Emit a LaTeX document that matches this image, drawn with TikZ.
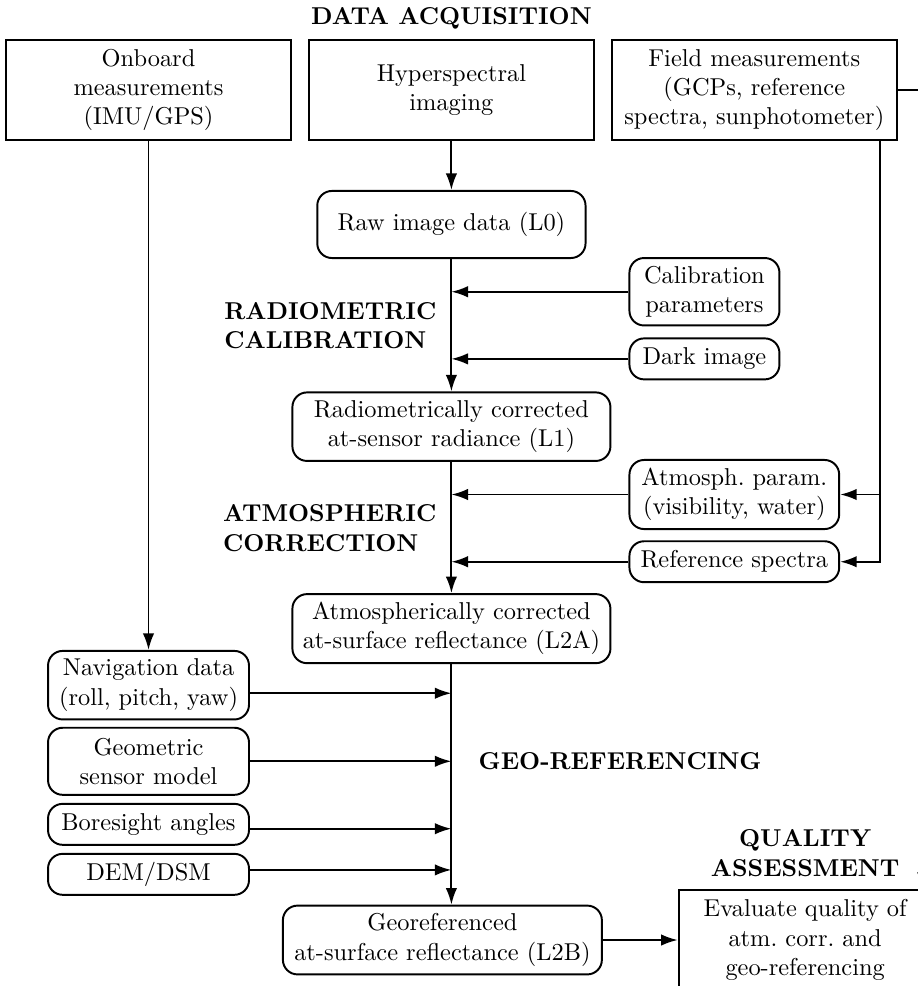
\documentclass[tikz,border=0pt]{standalone}
\usetikzlibrary{arrows.meta, positioning, calc}

\begin{document}
\begin{tikzpicture}[
    node distance=20pt and 6.4pt,
    io/.style={rectangle, draw, thick, minimum width=117pt, minimum height=41pt, align=center},
    proc/.style={rectangle, draw, thick, rounded corners=6pt, minimum height=16.8pt, align=center},
    arr/.style={thick, -{Latex[length=6.8pt, width=4.7pt]}},
    stage/.style={font=\bfseries, align=left, inner sep=0pt}
]

% Page frame (the picture is cut at the right and bottom)
\useasboundingbox (-185.1pt,36.9pt) rectangle (191.3pt,-367.4pt);
\clip (-185.1pt,36.9pt) rectangle (191.3pt,-367.4pt);

% Nodes
\node[io] (hyper) at (0,0) {Hyperspectral\\imaging};
\node[io, left=of hyper] (onboard) {Onboard\\measurements\\(IMU/GPS)};
\node[io, right=of hyper] (field) {Field measurements\\(GCPs, reference\\spectra, sunphotometer)};
\node[stage, above=4pt of hyper] (acq) {DATA ACQUISITION};

\node[proc, minimum width=110pt, minimum height=27.5pt, below=20.1pt of hyper] (raw) {Raw image data (L0)};
\node[proc, minimum width=61.5pt, below right=-0.8pt and 17.2pt of raw] (calib) {Calibration\\parameters};
\node[proc, minimum width=61.5pt, below=4.5pt of calib] (dark) {Dark image};

\node[proc, minimum width=130.4pt, below=54.3pt of raw] (radio) {Radiometrically corrected\\at-sensor radiance (L1)};
\node[proc, minimum width=86pt, below right=-1.2pt and 7pt of radio] (atmpar) {Atmosph.\ param.\\(visibility, water)};
\node[proc, minimum width=86pt, below=4.2pt of atmpar] (refspec) {Reference spectra};

\node[proc, minimum width=130.4pt, below=53.8pt of radio] (atm) {Atmospherically corrected\\at-surface reflectance (L2A)};

\node[proc, minimum width=82.4pt, below=208.7pt of onboard] (nav) {Navigation data\\(roll, pitch, yaw)};
\node[proc, minimum width=82.4pt, minimum height=27.5pt, below=2.6pt of nav] (geom) {Geometric\\sensor model};
\node[proc, minimum width=82.4pt, below=2.9pt of geom] (bore) {Boresight angles};
\node[proc, minimum width=82.4pt, below=2.9pt of bore] (dem) {DEM/DSM};

\node[proc, minimum width=130.8pt, below=98.6pt of atm, xshift=-3.7pt] (georef) {Georeferenced\\at-surface reflectance (L2B)};
\node[io, minimum width=103.7pt, right=30.7pt of georef] (quality) {Evaluate quality of\\atm.\ corr.\ and\\geo-referencing};
\node[stage, align=center, above=5pt of quality] (qualab) {QUALITY\\ASSESSMENT};

% Taps on the main line
\coordinate (calin) at (calib.west -| raw.south);
\coordinate (darkin) at (dark.west -| raw.south);
\coordinate (atmin) at (atmpar.west -| radio.south);
\coordinate (refin) at (refspec.west -| radio.south);
\coordinate (fieldtap) at ([xshift=-7.2pt]field.south east);

% Stage labels
\node[stage, left=6pt] at ($(calin)!0.5!(darkin)$) (radlab) {RADIOMETRIC\\CALIBRATION};
\node[stage, left=6pt] at ($(atmin)!0.5!(refin)$) (atmlab) {ATMOSPHERIC\\CORRECTION};
\node[stage, right=11pt] at (geom.east -| atm.south) (geolab) {GEO-REFERENCING};

% Arrows
\draw[arr] (hyper) -- (raw);
\draw[arr] (raw) -- (radio);
\draw[arr] (calib.west) -- (calin);
\draw[arr] (dark.west) -- (darkin);

\draw[arr] (radio) -- (atm);
\draw[arr] (atmpar.west) -- (atmin);
\draw[arr] (refspec.west) -- (refin);
\draw[arr] (fieldtap) |- (refspec.east);
\draw[arr] (fieldtap |- atmpar.east) -- (atmpar.east);

\draw[arr] (onboard) -- (nav);
\draw[arr] (atm.south) -- (atm.south |- georef.north);
\draw[arr] ([yshift=-3.3pt]nav.east) -- ([yshift=-3.3pt]nav.east -| atm.south);
\draw[arr] (geom.east) -- (geom.east -| atm.south);
\draw[arr] ([yshift=-1.8pt]bore.east) -- ([yshift=-1.8pt]bore.east -| atm.south);
\draw[arr] ([yshift=1.8pt]dem.east) -- ([yshift=1.8pt]dem.east -| atm.south);

\draw[arr] (georef) -- (quality);
\draw[arr] (field.east) -| ([xshift=-4pt]quality.north east);

\end{tikzpicture}
\end{document}
